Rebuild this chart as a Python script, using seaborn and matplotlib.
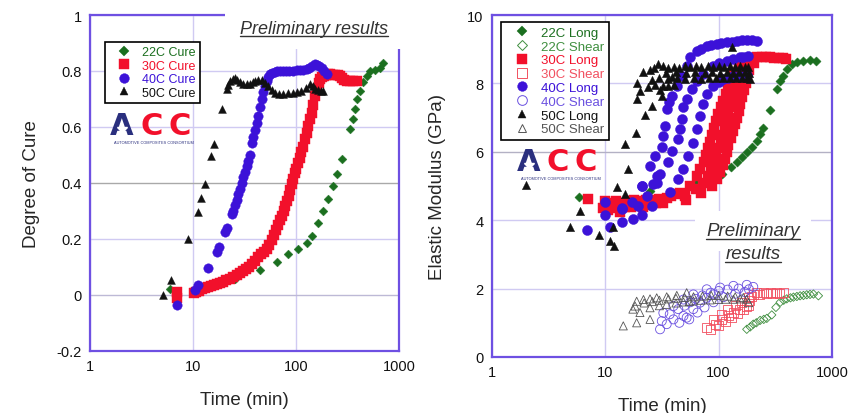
import matplotlib
matplotlib.use("Agg")
import matplotlib.pyplot as plt
import seaborn as sns
from matplotlib.lines import Line2D
from matplotlib.patches import Rectangle

# ---------- data: degree of cure (left) ----------
cure22_t = [6.0, 25.6, 44.7, 64.9, 84.2, 105, 127, 142, 165, 184, 206, 227, 248, 278,
            334, 355, 374, 394, 418, 451, 486, 523, 585, 654, 705]
cure22_y = [0.023, 0.056, 0.089, 0.118, 0.145, 0.163, 0.187, 0.211, 0.256, 0.30, 0.342,
            0.389, 0.431, 0.485, 0.592, 0.627, 0.663, 0.699, 0.729, 0.759, 0.782, 0.80,
            0.804, 0.812, 0.83]

cure30_t = [7.0, 7.0, 10.2, 10.8, 11.5, 12.2, 13, 14, 15, 16, 17, 18.2, 19.5, 21, 22.7,
            24.6, 26.5, 28.5, 30.5, 32.7, 35, 37.5, 40, 43, 46, 49, 52, 55, 58, 61, 64,
            67, 70, 73, 76, 79, 82, 85, 88, 91, 94, 97, 101, 105, 109, 113, 117, 122,
            127, 132, 137, 142, 147, 153, 159, 166, 172, 178, 186, 195, 205, 215, 228,
            240, 255, 267, 280, 295, 310, 334, 360, 388]
cure30_y = [0.01, -0.01, 0.008, 0.012, 0.016, 0.02, 0.024, 0.028, 0.032, 0.035, 0.038,
            0.043, 0.048, 0.053, 0.058, 0.064, 0.071, 0.078, 0.086, 0.093, 0.10, 0.11,
            0.121, 0.134, 0.146, 0.155, 0.165, 0.178, 0.195, 0.213, 0.232, 0.25, 0.267,
            0.283, 0.30, 0.318, 0.336, 0.355, 0.375, 0.395, 0.415, 0.435, 0.449, 0.47,
            0.49, 0.51, 0.53, 0.556, 0.58, 0.605, 0.63, 0.651, 0.68, 0.71, 0.735, 0.757,
            0.77, 0.777, 0.782, 0.786, 0.788, 0.788, 0.787, 0.785, 0.784, 0.782, 0.775,
            0.768, 0.765, 0.764, 0.764, 0.764]

cure40_t = [7.05, 10.4, 11.3, 14.1, 17.0, 17.8, 20.5, 21.5, 23.7, 24.6, 25.5, 26.5, 27.5,
            28.6, 29.7, 30.8, 32, 33.2, 34.4, 35.7, 37.2, 38.5, 40, 41.5, 43, 44.7, 46.5,
            48.2, 50, 51.9, 54, 56, 58, 62, 66, 70, 75, 80, 86, 94, 102, 110, 118, 127,
            135, 143, 153, 160, 168, 177, 188, 199]
cure40_y = [-0.037, 0.017, 0.035, 0.098, 0.155, 0.17, 0.225, 0.24, 0.29, 0.30, 0.32, 0.34,
            0.36, 0.378, 0.40, 0.42, 0.44, 0.461, 0.48, 0.50, 0.544, 0.565, 0.59, 0.616,
            0.64, 0.67, 0.699, 0.725, 0.745, 0.764, 0.78, 0.79, 0.794, 0.798, 0.80, 0.80,
            0.80, 0.80, 0.80, 0.80, 0.802, 0.803, 0.804, 0.806, 0.812, 0.818, 0.824,
            0.822, 0.818, 0.812, 0.80, 0.788]

cure50_t = [5.08, 6.07, 9.0, 11.1, 12.0, 13.1, 14.9, 16.1, 19.0, 21.2, 22.0, 22.9, 24.2,
            25.6, 27, 28.6, 30.8, 33.2, 35.5, 38, 40, 43, 46.5, 50, 53.8, 58, 62.5, 68,
            75.3, 84, 94, 103, 113, 125, 137, 145, 153, 165, 175, 184]
cure50_y = [0.0, 0.054, 0.199, 0.296, 0.348, 0.395, 0.496, 0.54, 0.665, 0.735, 0.75, 0.764,
            0.772, 0.776, 0.768, 0.759, 0.755, 0.752, 0.755, 0.76, 0.764, 0.768, 0.769,
            0.758, 0.746, 0.733, 0.723, 0.718, 0.717, 0.72, 0.723, 0.726, 0.729, 0.74,
            0.752, 0.745, 0.735, 0.732, 0.73, 0.729]

# ---------- data: elastic modulus (right) ----------
long22_t = [5.9, 24.8, 64, 84, 107, 128, 144, 160, 177, 196, 217, 232, 248, 284, 326,
            349, 368, 399, 442, 489, 560, 641, 724]
long22_E = [4.69, 4.86, 5.10, 5.20, 5.36, 5.55, 5.70, 5.85, 5.98, 6.13, 6.32, 6.51, 6.71,
            7.23, 7.83, 8.08, 8.22, 8.42, 8.57, 8.63, 8.65, 8.67, 8.66]

shear22_t = [177, 190, 202, 215, 232, 250, 266, 294, 320, 349, 375, 399, 430, 457, 490,
             523, 560, 599, 640, 686, 759]
shear22_E = [0.81, 0.88, 0.96, 1.0, 1.07, 1.1, 1.13, 1.23, 1.45, 1.60, 1.66, 1.70, 1.73,
             1.75, 1.77, 1.79, 1.80, 1.82, 1.83, 1.84, 1.79]

long30_t = [7.0, 9.5, 10, 10.5, 11, 12, 12.5, 13.5, 14, 15, 16, 17, 18, 19, 20, 21.5, 23,
            24.5, 26, 28, 30, 32, 35, 38, 42,
            45.6, 56, 64, 69, 73.5, 77, 80.5, 84, 87, 91, 95, 99, 104, 109, 115, 120, 126,
            136, 150, 175,
            50, 63, 73, 80, 85, 90, 95, 99, 104, 108, 113, 117, 121, 126, 131, 137, 143,
            150, 158, 168, 185,
            52, 70, 87, 96, 103, 109, 114, 118, 122, 128, 134, 139, 145, 150, 155, 161,
            167, 173, 179, 187, 203,
            217, 240, 260, 284, 310, 340, 372, 395]
long30_E = [4.62, 4.35, 4.55, 4.3, 4.5, 4.35, 4.55, 4.25, 4.5, 4.4, 4.55, 4.4, 4.6, 4.45,
            4.55, 4.4, 4.6, 4.45, 4.6, 4.5, 4.62, 4.5, 4.66, 4.72, 4.78,
            4.8, 5.0, 5.3, 5.5, 5.7, 5.9, 6.1, 6.3, 6.5, 6.7, 6.9, 7.1, 7.3, 7.5, 7.7, 7.9,
            8.1, 8.3, 8.5, 8.7,
            4.7, 4.9, 5.1, 5.3, 5.5, 5.7, 5.9, 6.1, 6.3, 6.5, 6.7, 6.9, 7.1, 7.3, 7.5, 7.7,
            7.9, 8.1, 8.3, 8.5, 8.65,
            4.6, 4.8, 5.0, 5.2, 5.4, 5.6, 5.8, 6.0, 6.2, 6.4, 6.6, 6.8, 7.0, 7.2, 7.4, 7.6,
            7.8, 8.0, 8.2, 8.4, 8.6,
            8.76, 8.76, 8.76, 8.76, 8.75, 8.74, 8.73, 8.72]

shear30_t = [78.5, 93, 106, 122, 135, 154, 177, 189, 196, 217, 248, 284, 326, 372,
             84, 100, 115, 130, 148, 165, 182,
             90, 105, 120, 140, 160, 185, 205, 230, 265, 300, 345]
shear30_E = [0.85, 0.96, 1.10, 1.20, 1.30, 1.40, 1.49, 1.64, 1.78, 1.88, 1.88, 1.88, 1.88,
             1.88,
             0.80, 0.92, 1.05, 1.15, 1.27, 1.38, 1.50,
             1.10, 1.25, 1.40, 1.50, 1.60, 1.75, 1.82, 1.84, 1.85, 1.85, 1.86]

long40_t = [6.94, 9.9, 9.9, 11, 14, 14, 17.5, 17.1, 19.6, 21, 23.2, 25.7, 14, 20.9, 24.8,
            27.5, 21, 26.3, 28.4,
            31.5, 32.5, 33.7, 34.8, 36.5, 38.5, 42.7, 47.2, 52.2, 56, 64, 70, 78.5, 85, 96,
            105, 118, 130, 144, 160, 177, 195, 217,
            28.4, 30.4, 35.9, 38.5, 44.1, 45.6, 47.2, 48.9, 52.2, 57.8, 64, 73.3, 89.8,
            100, 118, 135, 154, 165, 183,
            37.2, 44.1, 48.9, 54, 59.8, 64, 68.6, 73.3, 78.5, 89.8, 100, 110, 120, 135,
            155, 177]
long40_E = [3.72, 4.52, 4.15, 3.79, 4.35, 3.95, 4.03, 4.52, 4.42, 4.15, 4.71, 4.42, 4.32,
            5.00, 5.59, 5.88, 5.0, 5.05, 5.30,
            6.13, 6.45, 6.76, 7.25, 7.45, 7.64, 7.93, 8.22, 8.52, 8.76, 8.95, 9.02, 9.08,
            9.12, 9.15, 9.18, 9.20, 9.22, 9.25, 9.27, 9.28, 9.28, 9.25,
            5.10, 5.35, 5.69, 6.03, 6.37, 6.66, 6.96, 7.30, 7.54, 7.83, 8.08, 8.27, 8.52,
            8.6, 8.66, 8.72, 8.76, 8.78, 8.79,
            4.81, 5.20, 5.49, 5.88, 6.27, 6.66, 7.05, 7.39, 7.69, 7.93, 8.05, 8.13, 8.17,
            8.22, 8.23, 8.24]

shear40_t = [30.4, 34.8, 39.9, 48.9, 52.2, 59.8, 68.6, 78.5, 89.8,
             32.5, 39.9, 48.9, 59.8, 78.5, 103, 135, 177, 202,
             31.5, 37, 44, 50, 56, 63, 72, 85, 100, 120, 150, 185,
             45, 55, 65, 75, 90, 110, 140, 170]
shear40_E = [0.81, 0.96, 1.10, 1.20, 1.15, 1.40, 1.59, 1.73, 1.83,
             1.29, 1.49, 1.68, 1.83, 1.98, 2.03, 2.08, 2.11, 2.05,
             1.05, 1.25, 1.4, 1.5, 1.6, 1.7, 1.8, 1.88, 1.93, 1.97, 2.0, 1.98,
             1.0, 1.1, 1.3, 1.45, 1.6, 1.75, 1.85, 1.9]

long50_t = [2.0, 4.88, 5.98, 8.85, 10.9, 11.9, 11.8, 12.8, 14.9, 15.8, 14.9, 18.7, 22.4,
            25.6, 18.9, 20.2, 18.9, 21.7, 24.8, 29.4, 30.4, 31.5, 35.9, 38.5, 130,
            24, 27.5, 32.5, 40,
            27, 32, 36, 40, 45, 50, 56, 63, 70, 80, 90, 100, 112, 125, 140, 155, 170, 183,
            34, 42, 52, 62, 75, 88, 102, 118, 135, 152, 170, 185,
            26, 30, 36, 43, 50, 60, 70, 82, 95, 110, 125, 142, 160, 178, 188]
long50_E = [5.02, 3.79, 4.27, 3.56, 3.40, 3.25, 3.79, 4.96, 4.76, 5.51, 6.22, 6.56, 7.07,
            7.33, 7.54, 7.78, 8.01, 8.32, 8.40, 8.56, 7.81, 7.64, 7.93, 8.18, 9.05,
            7.9, 7.95, 7.92, 7.95,
            8.45, 8.5, 8.45, 8.48, 8.45, 8.5, 8.47, 8.5, 8.47, 8.5, 8.48, 8.5, 8.48, 8.5,
            8.48, 8.5, 8.48, 8.47,
            8.3, 8.32, 8.3, 8.33, 8.3, 8.33, 8.31, 8.33, 8.3, 8.33, 8.32, 8.3,
            8.1, 8.15, 8.12, 8.15, 8.13, 8.16, 8.14, 8.17, 8.15, 8.17, 8.15, 8.17, 8.15,
            8.16, 8.14]

shear50_t = [14.4, 18.9, 24.8, 18.3, 18.9, 21.7, 24.8, 28.4, 34.8, 42.7, 52.2, 20.2, 17.5,
             24.8, 30, 34.8, 42, 48.9, 55, 59.8, 70, 84, 100, 115, 135, 155, 177, 184,
             22, 26, 30, 36, 42, 50, 60, 72, 86, 100, 120, 140, 165]
shear50_E = [0.91, 1.00, 1.10, 1.49, 1.63, 1.68, 1.70, 1.73, 1.76, 1.80, 1.88, 1.30, 1.40,
             1.44, 1.50, 1.54, 1.58, 1.61, 1.62, 1.64, 1.66, 1.67, 1.68, 1.69, 1.69, 1.70,
             1.69, 1.59,
             1.58, 1.62, 1.66, 1.7, 1.72, 1.74, 1.76, 1.78, 1.8, 1.8, 1.78, 1.76, 1.74]

x_ticks = [1, 10, 100, 1000]
x_labels = ["1", "10", "100", "1000"]
cure_ticks = [-0.2, 0, 0.2, 0.4, 0.6, 0.8, 1]
cure_labels = ["-0.2", "0", "0.2", "0.4", "0.6", "0.8", "1"]
mod_ticks = [0, 2, 4, 6, 8, 10]

GREEN, RED, BLUE, BLACK = "#1b6f1f", "#f2102b", "#3c12d8", "#111111"
NAVY = "#2a2f7e"
SPINE = "#6e50e2"
GRID = "#d0caf2"
W, H = 860, 414

sns.set_style("white")
plt.rcParams["font.family"] = ["Liberation Sans", "DejaVu Sans"]

fig = plt.figure(figsize=(W / 100, H / 100), dpi=100)
ax1 = fig.add_axes([90 / W, 1 - 352 / H, 309 / W, 336 / H])
ax2 = fig.add_axes([492 / W, 1 - 358 / H, 340 / W, 342 / H])


def scatter(ax, t, y, marker, color, s, filled=True):
    if filled:
        sns.scatterplot(x=t, y=y, ax=ax, marker=marker, s=s, color=color,
                        edgecolor=color, linewidth=0.3, legend=False, zorder=3)
    else:
        sns.scatterplot(x=t, y=y, ax=ax, marker=marker, s=s, color=color,
                        facecolors="none", edgecolor=color, linewidth=0.6,
                        legend=False, zorder=3)


scatter(ax1, cure22_t, cure22_y, "D", GREEN, 20)
scatter(ax1, cure30_t, cure30_y, "s", RED, 58)
scatter(ax1, cure40_t, cure40_y, "o", BLUE, 46)
scatter(ax1, cure50_t, cure50_y, "^", BLACK, 32)

scatter(ax2, shear22_t, shear22_E, "D", "#3f8f3f", 18, filled=False)
scatter(ax2, shear30_t, shear30_E, "s", "#f25060", 42, filled=False)
scatter(ax2, shear40_t, shear40_E, "o", "#6a50e0", 42, filled=False)
scatter(ax2, shear50_t, shear50_E, "^", "#555555", 34, filled=False)
scatter(ax2, long22_t, long22_E, "D", GREEN, 22)
scatter(ax2, long30_t, long30_E, "s", RED, 58)
scatter(ax2, long40_t, long40_E, "o", BLUE, 52)
scatter(ax2, long50_t, long50_E, "^", BLACK, 36)

for ax, ticks, labels, ylim in [(ax1, cure_ticks, cure_labels, (-0.2, 1)),
                                (ax2, mod_ticks, [str(v) for v in mod_ticks], (0, 10))]:
    ax.set_xscale("log")
    ax.set_xlim(1, 1000)
    ax.set_ylim(*ylim)
    ax.set_xticks(x_ticks, x_labels)
    ax.set_yticks(ticks, labels)
    ax.minorticks_off()
    ax.set_axisbelow(True)
    ax.grid(True, color=GRID, lw=1.0)
    ax.tick_params(length=0, labelsize=10.5, pad=6, colors="#111111")
    for sp in ax.spines.values():
        sp.set_color(SPINE)
        sp.set_linewidth(1.6)
    ax.set_xlabel("Time (min)", fontsize=13.5, labelpad=13)

ax1.set_ylabel("Degree of Cure", fontsize=13.5, labelpad=12)
ax2.set_ylabel("Elastic Modulus (GPa)", fontsize=13.5, labelpad=15)
ax1.yaxis.get_gridlines()[3].set_color("#a9a9a9")
ax1.yaxis.get_gridlines()[1].set_color("#bdb9d6")
ax2.yaxis.get_gridlines()[3].set_color("#b3b1c4")

# top-right corner of the left frame is blanked behind the note
ax1.add_patch(Rectangle((0.437, 0.899), 0.6, 0.2, transform=ax1.transAxes,
                        facecolor="white", edgecolor="none", zorder=4, clip_on=False))


def legend(ax, names, styles, anchor, fs, hl):
    handles = [Line2D([], [], ls="none", marker=m, color=c,
                      markerfacecolor=(c if f else "none"), markeredgewidth=(0.3 if f else 0.7),
                      markersize=ms) for m, c, f, ms in styles]
    leg = ax.legend(handles, names, loc="upper left", bbox_to_anchor=anchor,
                    borderaxespad=0, fontsize=fs, frameon=True, fancybox=False,
                    framealpha=1, edgecolor="black", borderpad=0.35,
                    handlelength=hl, handletextpad=0.2, labelspacing=0.12)
    leg.get_frame().set_linewidth(1.2)
    for txt, (_, c, _, _) in zip(leg.get_texts(), styles):
        txt.set_color(c)
    leg.set_zorder(6)


legend(ax1, ["22C Cure", "30C Cure", "40C Cure", "50C Cure"],
       [("D", GREEN, True, 5), ("s", RED, True, 7), ("o", BLUE, True, 7),
        ("^", BLACK, True, 6)], (0.0485, 0.92), 9, 2.4)
legend(ax2, ["22C Long", "22C Shear", "30C Long", "30C Shear",
             "40C Long", "40C Shear", "50C Long", "50C Shear"],
       [("D", GREEN, True, 5), ("D", "#3f8f3f", False, 5), ("s", RED, True, 7),
        ("s", "#f25060", False, 7), ("o", BLUE, True, 7), ("o", "#6a50e0", False, 7),
        ("^", BLACK, True, 6), ("^", "#555555", False, 6)], (0.0265, 0.98), 9.5, 2.5)


def fx(px):
    return px / W


def fy(py):
    return 1 - py / H


def logo(x, base):
    kw = dict(fontsize=22, fontweight="bold", family="DejaVu Sans", va="baseline",
              zorder=7)
    fig.text(fx(x), fy(base), "A", color=NAVY, **kw)
    # white star punched into the A
    fig.add_artist(Line2D([fx(x + 12)], [fy(base - 5)], transform=fig.transFigure,
                          marker="*", markersize=7.5, color="white", ls="none", zorder=8))
    fig.text(fx(x + 30), fy(base), "C", color=RED, **kw)
    fig.text(fx(x + 58), fy(base), "C", color=RED, **kw)
    fig.text(fx(x + 44), fy(base + 8), "AUTOMOTIVE COMPOSITES CONSORTIUM", color=NAVY,
             fontsize=2.8, ha="center", va="center", zorder=7)


logo(110, 135)
logo(517, 171)


def underline(txt):
    fig.canvas.draw()
    bb = txt.get_window_extent(renderer=fig.canvas.get_renderer())
    inv = fig.transFigure.inverted()
    (x0, y0), (x1, _) = inv.transform([(bb.x0, bb.y0 + 1), (bb.x1, bb.y1)])
    fig.add_artist(Line2D([x0, x1], [y0, y0], transform=fig.transFigure,
                          color="#333333", lw=1.0, zorder=9))


note_kw = dict(style="italic", color="#333333", ha="center", va="center", zorder=8)
t1 = fig.text(fx(314), fy(29), "Preliminary results", fontsize=13, **note_kw)
t2 = fig.text(fx(753), fy(232), "Preliminary", fontsize=13.5,
              bbox=dict(facecolor="white", edgecolor="none", pad=8), **note_kw)
t3 = fig.text(fx(753), fy(255), "results", fontsize=13.5, **note_kw)
for t in (t1, t2, t3):
    underline(t)

fig.savefig("out.png", dpi=100)
